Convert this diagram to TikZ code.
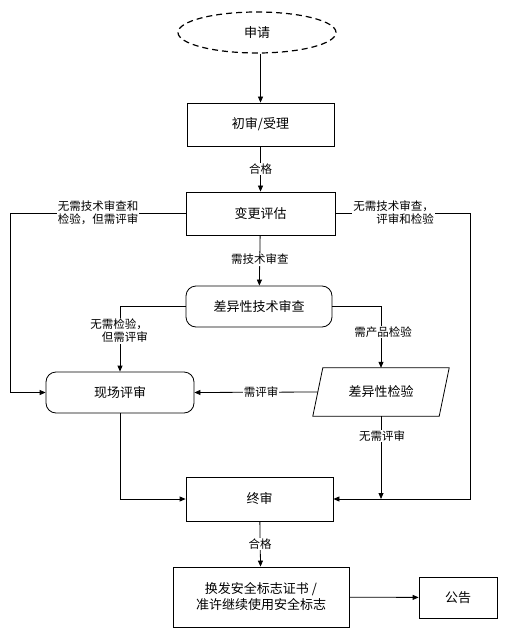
\documentclass[tikz,border=0pt]{standalone}
\usepackage{fontspec}
\setmainfont{Noto Sans CJK SC}
\usetikzlibrary{arrows.meta,shapes.geometric}
\begin{document}
\begin{tikzpicture}[x=1pt,y=-1pt,
  every node/.style={inner sep=1pt},
  box/.style={draw,line width=0.8pt,font=\fontsize{13}{16}\selectfont},
  rbox/.style={box,rounded corners=10pt},
  lab/.style={fill=white,font=\fontsize{11.5}{13}\selectfont,inner sep=1pt},
  arr/.style={line width=0.8pt,-{Triangle[length=6pt,width=5pt]}},
  ln/.style={line width=0.8pt}]
\useasboundingbox (0,0) rectangle (515,636);
% nodes
\node[draw,ellipse,line width=1.2pt,dash pattern=on 6pt off 4pt,minimum width=158,minimum height=41,font=\fontsize{13}{16}\selectfont] (apply) at (257,32.5) {申请};
\node[box,minimum width=147,minimum height=43] (first) at (260.5,124.5) {初审/受理};
\node[box,minimum width=149,minimum height=43] (eval) at (260.5,213.5) {变更评估};
\node[rbox,minimum width=146,minimum height=41] (tech) at (259,306.5) {差异性技术审查};
\node[rbox,minimum width=148,minimum height=41] (site) at (120,392.5) {现场评审};
\node[minimum width=126,minimum height=48,font=\fontsize{13}{16}\selectfont] (test) at (381,392) {差异性检验};
\draw[ln] ([xshift=5pt]test.north west) -- ([xshift=5pt]test.north east) -- ([xshift=-5pt]test.south east) -- ([xshift=-5pt]test.south west) -- cycle;
\node[box,minimum width=147,minimum height=44] (final) at (259.5,499) {终审};
\node[box,minimum width=176,minimum height=60,align=center] (cert) at (261,597) {换发安全标志证书 /\\准许继续使用安全标志};
\node[box,minimum width=78,minimum height=41] (pub) at (458,597.5) {公告};
\coordinate (J) at (381,499);
% connectors
\draw[arr] (first.north |- apply.south) -- (first.north);
\draw[arr] (first) -- node[lab]{合格} (eval);
\draw[arr] (eval) -- node[lab,pos=0.48]{需技术审查} (tech);
\draw[arr] (eval.west) -- ++(-175,0) |- (site.west);
\node[lab,align=left] at (98,213) {无需技术审查和\\检验，但需评审};
\draw[arr] (eval.east) -- ++(135,0) |- (final.east);
\node[lab,align=right] at (393.5,213) {无需技术审查，\\评审和检验};
\draw[arr] (tech.west) -| (site.north);
\node[lab,align=right] at (119,331) {无需检验，\\但需评审};
\draw[arr] (tech.east) -| (test.north);
\node[lab] at (383,332) {需产品检验};
\draw[arr] (test.west) -- (site.east);
\node[lab] at (261,392) {需评审};
\draw[arr] (test.south) -- (J);
\node[lab] at (382,436) {无需评审};
\draw[arr] (site.south) |- (final.west);
\draw[arr] (final) -- node[lab]{合格} (cert);
\draw[arr] (cert) -- (pub);
\end{tikzpicture}
\end{document}
